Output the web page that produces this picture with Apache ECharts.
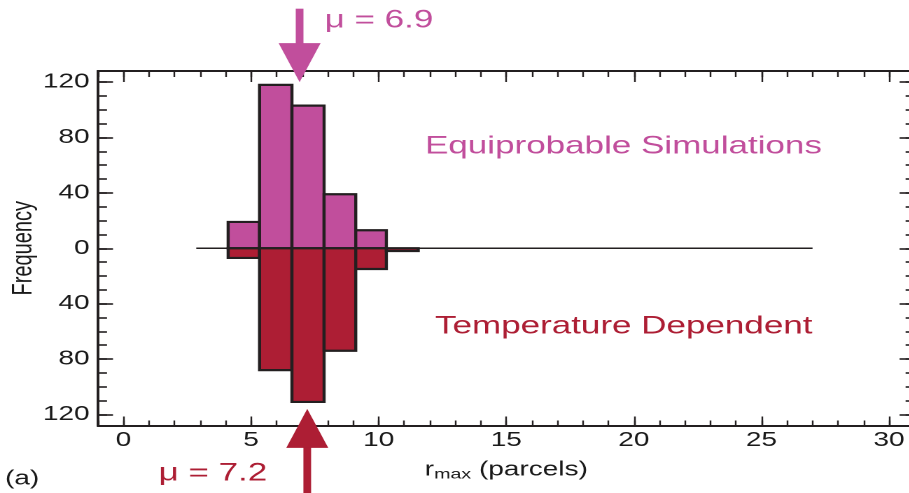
<!DOCTYPE html>
<html>
<head>
<meta charset="utf-8">
<script src="https://cdn.jsdelivr.net/npm/echarts@6/dist/echarts.min.js"></script>
<style>
  html, body { margin: 0; padding: 0; background: #fff; overflow: hidden; }
  #frame { width: 909px; height: 493px; overflow: hidden; position: relative; }
  /* The figure is drawn in a narrower box and stretched horizontally */
  #chart { position: absolute; left: 0; top: 0; height: 493px; transform-origin: 0 0; }
</style>
</head>
<body>
<div id="frame"><div id="chart"></div></div>
<script>
// Histogram bin edges (r_max, parcels) and counts for both model runs
const binEdges = [4.1, 5.33, 6.6, 7.86, 9.1, 10.3, 11.55];
const equiprobableCounts = [19, 118, 103, 39, 13, 0];
const temperatureCounts = [7, 88, 111, 74, 15, 2];

// Means of each distribution, with arrow tip / tail positions (frequency units)
const meanEquiprobable = 6.9;
const meanTemperature = 7.2;
const arrowEquiprobable = [120, 173];
const arrowTemperature = [-116, -178];

// Zero reference line extent
const baselineExtent = [2.85, 27];

// Axis ticks and labels
const xMajorTicks = [0, 5, 10, 15, 20, 25, 30];
const xMinorTicks = [-1, 0, 1, 2, 3, 4, 5, 6, 7, 8, 9, 10, 11, 12, 13, 14, 15, 16, 17, 18, 19, 20, 21, 22, 23, 24, 25, 26, 27, 28, 29, 30, 31];
const yMajorTicks = [-120, -80, -40, 0, 40, 80, 120];
const yMinorTicks = [-120, -110, -100, -90, -80, -70, -60, -50, -40, -30, -20, -10, 0, 10, 20, 30, 40, 50, 60, 70, 80, 90, 100, 110, 120];

const STRETCH = 1.4;           // horizontal stretch applied by CSS
const DRAW_WIDTH = 1000;       // drawing width in page pixels (page shows the first 909)
const FRAME_RIGHT = 915;       // right frame edge in page pixels (just past the page)
const MAGENTA = '#c14e9c';
const CRIMSON = '#ad1e34';
const INK = '#231f20';
const TEXT = '#1a1a1a';
const FONT = '"Liberation Sans", Arial, Helvetica, sans-serif';

const X_MIN = -1, X_MAX = 31, Y_MIN = -128, Y_MAX = 128;

const chartEl = document.getElementById('chart');
chartEl.style.width = (DRAW_WIDTH / STRETCH) + 'px';
chartEl.style.transform = 'scaleX(' + STRETCH + ')';

const binRows = (counts) => counts.map((c, i) => [binEdges[i], binEdges[i + 1], c]);

function frameAxis(kind, position, ticks, tickLen, withLabels, showLine) {
  const ax = {
    type: 'value',
    gridIndex: 0,
    position: position,
    min: kind === 'x' ? X_MIN : Y_MIN,
    max: kind === 'x' ? X_MAX : Y_MAX,
    axisLine: { show: showLine !== false, onZero: false, lineStyle: { color: INK, width: 2 } },
    axisTick: {
      show: true, inside: true, length: tickLen, customValues: ticks,
      lineStyle: { color: INK, width: kind === 'x' ? 1.2 : 1.6 }
    },
    axisLabel: { show: false },
    splitLine: { show: false },
    minorTick: { show: false },
    silent: true
  };
  if (withLabels) {
    ax.axisLabel = {
      show: true,
      customValues: ticks,
      color: TEXT,
      fontSize: 20,
      fontFamily: FONT,
      margin: kind === 'x' ? 5 : 6,
      formatter: (v) => String(Math.abs(v))
    };
  }
  return ax;
}

const xBottom = frameAxis('x', 'bottom', xMajorTicks, 9, true);
xBottom.name = '{r|r}{sub|max}{r| (parcels)}';
xBottom.nameLocation = 'middle';
xBottom.nameGap = 33;
xBottom.nameMoveOverlap = false;
xBottom.nameTextStyle = {
  rich: {
    r: { fontSize: 20, fontFamily: FONT, color: TEXT },
    sub: { fontSize: 14, fontFamily: FONT, color: TEXT, verticalAlign: 'bottom', padding: [9, 0, 0, 0] }
  }
};

const yLeft = frameAxis('y', 'left', yMajorTicks, 15 / STRETCH, true);
yLeft.name = 'Frequency';
yLeft.nameLocation = 'middle';
yLeft.nameGap = 43;
yLeft.nameMoveOverlap = false;
yLeft.nameTextStyle = { fontSize: 20, fontFamily: FONT, color: TEXT };

function barRender(sign, color) {
  return function (params, api) {
    const v = api.value(2);
    if (!v) return null;
    const p0 = api.coord([api.value(0), 0]);
    const p1 = api.coord([api.value(1), sign * v]);
    return {
      type: 'rect',
      shape: {
        x: p0[0],
        y: Math.min(p0[1], p1[1]),
        width: p1[0] - p0[0],
        height: Math.abs(p1[1] - p0[1])
      },
      style: { fill: color, stroke: INK, lineWidth: 2.2 }
    };
  };
}

function arrowRender(color, labelDx, labelDy, labelAlign) {
  return function (params, api) {
    const mu = api.value(0);
    const tip = api.coord([mu, api.value(1)]);
    const tail = api.coord([mu, api.value(2)]);
    const dir = tail[1] < tip[1] ? -1 : 1;   // -1: tail above tip
    const headLen = 39, headHalf = 21 / STRETCH;
    const baseY = tip[1] + dir * headLen;
    return {
      type: 'group',
      children: [
        {
          type: 'line',
          shape: { x1: tail[0], y1: tail[1], x2: tip[0], y2: baseY - dir * 4 },
          style: { stroke: color, lineWidth: 5.5 }
        },
        {
          type: 'polygon',
          shape: { points: [[tip[0], tip[1]], [tip[0] - headHalf, baseY], [tip[0] + headHalf, baseY]] },
          style: { fill: color }
        },
        {
          type: 'text',
          x: tail[0] + labelDx,
          y: tail[1] + labelDy,
          style: {
            text: 'μ = ' + mu.toFixed(1),
            fill: color,
            font: '25px ' + FONT,
            align: labelAlign,
            verticalAlign: 'middle'
          }
        }
      ]
    };
  };
}

const option = {
  animation: false,
  backgroundColor: '#ffffff',
  textStyle: { fontFamily: FONT },
  grid: {
    left: 98 / STRETCH,
    right: (DRAW_WIDTH - FRAME_RIGHT) / STRETCH,
    top: 71,
    bottom: 67.5,
    containLabel: false,
    outerBoundsMode: 'none'
  },
  xAxis: [
    xBottom,
    frameAxis('x', 'bottom', xMinorTicks, 5, false),
    frameAxis('x', 'top', xMajorTicks, 11, false),
    frameAxis('x', 'top', xMinorTicks, 6, false)
  ],
  yAxis: [
    yLeft,
    frameAxis('y', 'left', yMinorTicks, 9 / STRETCH, false),
    frameAxis('y', 'right', yMajorTicks, 15 / STRETCH, false),
    frameAxis('y', 'right', yMinorTicks, 9 / STRETCH, false)
  ],
  series: [
    {
      type: 'line',
      xAxisIndex: 0, yAxisIndex: 0,
      data: [[baselineExtent[0], 0], [baselineExtent[1], 0]],
      symbol: 'none',
      lineStyle: { color: INK, width: 1.5 },
      silent: true,
      z: 1
    },
    {
      type: 'custom',
      name: 'Equiprobable Simulations',
      xAxisIndex: 0, yAxisIndex: 0,
      data: binRows(equiprobableCounts),
      renderItem: barRender(1, MAGENTA),
      z: 2
    },
    {
      type: 'custom',
      name: 'Temperature Dependent',
      xAxisIndex: 0, yAxisIndex: 0,
      data: binRows(temperatureCounts),
      renderItem: barRender(-1, CRIMSON),
      z: 2
    },
    {
      type: 'custom',
      xAxisIndex: 0, yAxisIndex: 0,
      clip: false,
      data: [[meanEquiprobable, arrowEquiprobable[0], arrowEquiprobable[1]]],
      renderItem: arrowRender(MAGENTA, 25 / STRETCH, 12, 'left'),
      z: 10
    },
    {
      type: 'custom',
      xAxisIndex: 0, yAxisIndex: 0,
      clip: false,
      data: [[meanTemperature, arrowTemperature[0], arrowTemperature[1]]],
      renderItem: arrowRender(CRIMSON, -40 / STRETCH, -21, 'right'),
      z: 10
    }
  ],
  graphic: [
    {
      type: 'text', left: 425 / STRETCH, top: 134,
      style: { text: 'Equiprobable Simulations', fill: MAGENTA, font: '25px ' + FONT }
    },
    {
      type: 'text', left: 435 / STRETCH, top: 314,
      style: { text: 'Temperature Dependent', fill: CRIMSON, font: '25px ' + FONT }
    },
    {
      type: 'text', left: 5 / STRETCH, top: 469,
      style: { text: '(a)', fill: TEXT, font: '20px ' + FONT }
    }
  ]
};

const chart = echarts.init(chartEl, null, { renderer: 'canvas', devicePixelRatio: 2 });
chart.setOption(option);
</script>
</body>
</html>
